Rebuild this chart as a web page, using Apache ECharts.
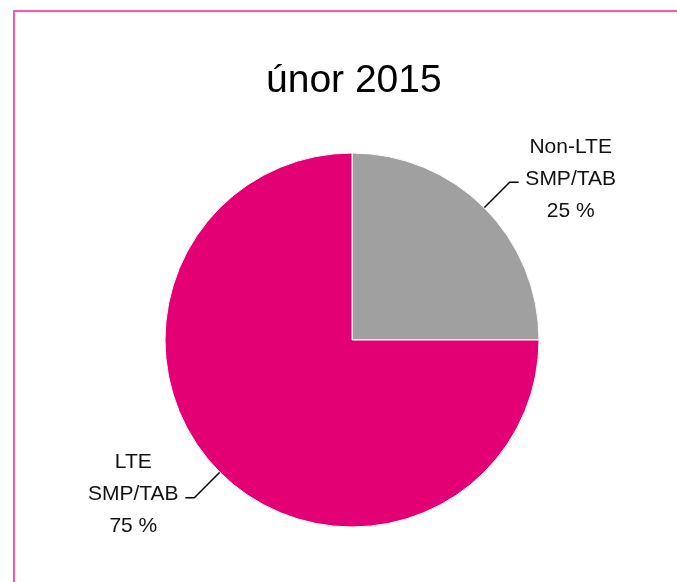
<!DOCTYPE html>
<html>
<head>
<meta charset="utf-8">
<script src="https://cdn.jsdelivr.net/npm/echarts@6/dist/echarts.min.js"></script>
<style>
  html, body { margin: 0; padding: 0; background: #fff; }
  #chart { width: 677px; height: 582px; }
</style>
</head>
<body>
<div id="chart"></div>
<script>
const titleText = 'únor 2015'
const sliceNames = ['Non-LTE\nSMP/TAB', 'LTE\nSMP/TAB']
const sliceValues = [25, 75]
const sliceColors = ['#a0a0a0', '#e20074']

const font = "'Liberation Sans', Arial, sans-serif"
const chart = echarts.init(document.getElementById('chart'))

const option = {
  backgroundColor: '#fff',
  animation: false,
  title: {
    text: titleText,
    left: 261,
    top: 57,
    textStyle: {
      fontFamily: font,
      fontSize: 39,
      fontWeight: 'normal',
      color: '#000'
    }
  },
  // pink frame: top and left edges only
  graphic: [
    { type: 'line', shape: { x1: 13, y1: 11, x2: 677, y2: 11 }, style: { stroke: '#ff55aa', lineWidth: 2 } },
    { type: 'line', shape: { x1: 14, y1: 10, x2: 14, y2: 582 }, style: { stroke: '#ff55aa', lineWidth: 2 } }
  ],
  series: [
    {
      type: 'pie',
      center: [352, 340],
      radius: 187,
      startAngle: 90,
      clockwise: true,
      itemStyle: {
        borderColor: '#fff',
        borderWidth: 1
      },
      label: {
        show: true,
        position: 'outside',
        // each line centred in a fixed-width box, small extra line lifts the block a bit
        formatter: (p) =>
          p.name.split('\n').map((s) => '{c|' + s + '}').join('\n') +
          '\n{c|' + p.value + ' %}\n{s| }',
        rich: {
          c: {
            fontFamily: font,
            fontSize: 21,
            lineHeight: 32,
            color: '#111',
            width: 94,
            align: 'center'
          },
          s: { fontSize: 4, lineHeight: 6, height: 6 }
        }
      },
      labelLine: {
        show: true,
        length: 36,
        length2: 9,
        lineStyle: { color: '#000', width: 1.5 }
      },
      data: sliceNames.map((n, i) => ({
        name: n,
        value: sliceValues[i],
        itemStyle: { color: sliceColors[i] }
      }))
    }
  ]
}

chart.setOption(option)
</script>
</body>
</html>
